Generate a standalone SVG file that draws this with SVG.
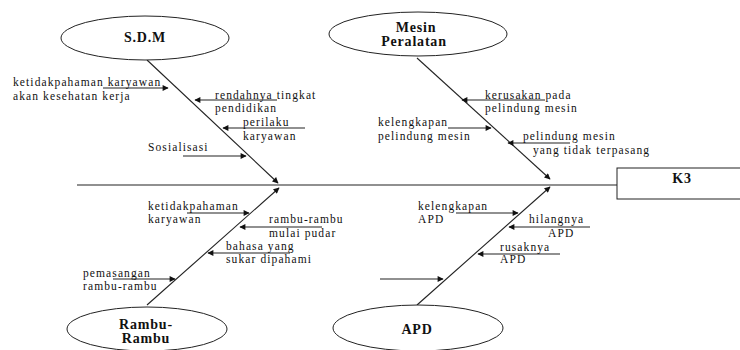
<svg xmlns="http://www.w3.org/2000/svg" width="740" height="350" viewBox="0 0 740 350">
<style>
.n{fill:#fff;stroke:#222;stroke-width:1}
.l{font-family:"Liberation Serif","DejaVu Serif",serif;font-weight:bold;font-size:14px;letter-spacing:0.8px;fill:#111;text-anchor:middle}
.t{font-family:"Liberation Serif","DejaVu Serif",serif;font-size:11.5px;letter-spacing:1.1px;fill:#111}
.c line{stroke:#222;stroke-width:1.1}
.c .a{marker-end:url(#ah)}
</style>
<defs>
<marker id="ah" viewBox="0 0 10 10" refX="9" refY="5" markerWidth="8" markerHeight="6" orient="auto" markerUnits="userSpaceOnUse">
<path d="M0,0 L10,5 L0,10 z" fill="#111"/>
</marker>
</defs>
<g class="c" id="connectors">
<line x1="77" y1="185" x2="617" y2="185"/>
<line class="a" x1="147" y1="60" x2="278" y2="183"/>
<line class="a" x1="147" y1="305" x2="279" y2="188"/>
<line class="a" x1="417" y1="58" x2="550" y2="179"/>
<line class="a" x1="417" y1="305" x2="550" y2="187"/>
<line class="a" x1="103" y1="88" x2="168" y2="88"/>
<line class="a" x1="277" y1="100" x2="195" y2="100"/>
<line class="a" x1="305" y1="128" x2="223" y2="128"/>
<line class="a" x1="183" y1="156" x2="246" y2="156"/>
<line class="a" x1="545" y1="100" x2="462" y2="100"/>
<line class="a" x1="448" y1="128" x2="491" y2="128"/>
<line class="a" x1="570" y1="143" x2="508" y2="143"/>
<line class="a" x1="187" y1="213" x2="249" y2="213"/>
<line class="a" x1="322" y1="227" x2="240" y2="227"/>
<line class="a" x1="290" y1="253" x2="208" y2="253"/>
<line class="a" x1="113" y1="279" x2="175" y2="279"/>
<line class="a" x1="456" y1="213" x2="518" y2="213"/>
<line class="a" x1="590" y1="227" x2="509" y2="227"/>
<line class="a" x1="560" y1="254" x2="478" y2="254"/>
<line class="a" x1="380" y1="279" x2="443" y2="279"/>
</g>
<g id="sdm">
<ellipse class="n" cx="145" cy="38" rx="84" ry="22"/>
<text class="l" x="145" y="42">S.D.M</text>
</g>
<g id="mesin">
<ellipse class="n" cx="418" cy="34" rx="89" ry="22"/>
<text class="l" x="416" y="32">Mesin</text>
<text class="l" x="414" y="46">Peralatan</text>
</g>
<g id="rambu">
<ellipse class="n" cx="147" cy="329" rx="80" ry="22"/>
<text class="l" x="146" y="329">Rambu-</text>
<text class="l" x="146" y="343">Rambu</text>
</g>
<g id="apd">
<ellipse class="n" cx="418" cy="328" rx="85" ry="23"/>
<text class="l" x="417" y="334">APD</text>
</g>
<g id="k3">
<rect class="n" x="617" y="168" width="130" height="31"/>
<text class="l" x="682" y="183">K3</text>
</g>
<g id="labels">
<text class="t" x="13" y="86">ketidakpahaman karyawan</text>
<text class="t" x="13" y="100">akan kesehatan kerja</text>
<text class="t" x="215" y="99">rendahnya tingkat</text>
<text class="t" x="215" y="112">pendidikan</text>
<text class="t" x="243" y="126">perilaku</text>
<text class="t" x="243" y="140">karyawan</text>
<text class="t" x="148" y="151">Sosialisasi</text>
<text class="t" x="485" y="99">kerusakan pada</text>
<text class="t" x="485" y="112">pelindung mesin</text>
<text class="t" x="378" y="126">kelengkapan</text>
<text class="t" x="378" y="140">pelindung mesin</text>
<text class="t" x="523" y="140">pelindung mesin</text>
<text class="t" x="533" y="154">yang tidak terpasang</text>
<text class="t" x="148" y="210">ketidakpahaman</text>
<text class="t" x="148" y="223">karyawan</text>
<text class="t" x="269" y="223">rambu-rambu</text>
<text class="t" x="269" y="237">mulai pudar</text>
<text class="t" x="226" y="250">bahasa yang</text>
<text class="t" x="226" y="263">sukar dipahami</text>
<text class="t" x="83" y="277">pemasangan</text>
<text class="t" x="83" y="290">rambu-rambu</text>
<text class="t" x="418" y="210">kelengkapan</text>
<text class="t" x="418" y="223">APD</text>
<text class="t" x="529" y="223">hilangnya</text>
<text class="t" x="548" y="237">APD</text>
<text class="t" x="500" y="251">rusaknya</text>
<text class="t" x="500" y="263">APD</text>
</g>
</svg>
